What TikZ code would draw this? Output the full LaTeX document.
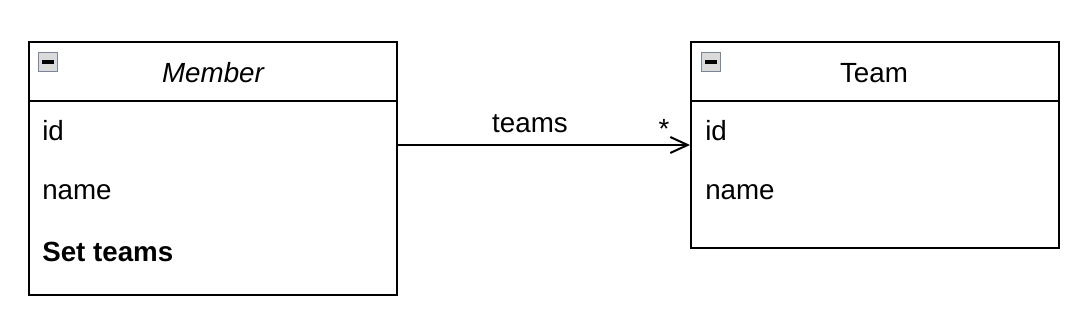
\documentclass[tikz,border=0pt]{standalone}
\usepackage{fontspec}
\setmainfont{Liberation Sans}
\usetikzlibrary{arrows.meta}
\definecolor{iconedge}{HTML}{7B8799}
\definecolor{iconfill}{HTML}{DADADA}
\tikzset{
  classbox/.style={draw, line width=1.5pt, anchor=north west, inner sep=0pt, minimum width=276pt},
  headrule/.style={line width=1pt},
  field/.style={anchor=west, inner sep=0pt, font=\fontsize{20.8}{24}\selectfont},
  title/.style={inner sep=0pt, font=\fontsize{20.8}{24}\selectfont},
  foldicon/.style={draw=iconedge, fill=iconfill, line width=1.2pt, minimum size=14pt, inner sep=0pt},
  assoc/.style={line width=1.5pt, -{Straight Barb[length=13pt, width=12pt, line width=1.5pt]}}
}
\begin{document}
\begin{tikzpicture}[x=0.75pt, y=-0.75pt]
    \useasboundingbox (0,0) rectangle (1081,323);
    % class boxes
    \node[classbox, minimum height=189.75pt] (member) at (28,41) {};
    \node[classbox, minimum height=154.5pt]  (team)   at (690,41) {};
    \draw[headrule] ([yshift=-45pt]member.north west) -- ([yshift=-45pt]member.north east);
    \draw[headrule] ([yshift=-45pt]team.north west) -- ([yshift=-45pt]team.north east);
    % collapse icons
    \foreach \ic/\px in {membericon/48, teamicon/711} {
        \node[foldicon] (\ic) at (\px,62) {};
        \draw[line width=2.4pt] ([xshift=-4.5pt]\ic.center) -- ([xshift=4.5pt]\ic.center);
    }
    % titles
    \node[title, font=\fontsize{20.8}{24}\selectfont\itshape] (membertitle) at (213,73) {Member};
    \node[title] (teamtitle) at (874,73) {Team};
    % fields
    \node[field] (memberid)    at (42,131) {id};
    \node[field] (membername)  at (42,192) {name};
    \node[field, font=\fontsize{20.8}{24}\selectfont\bfseries] (memberteams) at (42,252) {Set teams};
    \node[field] (teamid)   at (705,131) {id};
    \node[field] (teamname) at (705,192) {name};
    % association
    \draw[assoc] ([yshift=-78pt]member.north east) -- ([yshift=-78pt]team.north west);
    \node[title] (assoclabel) at (530,124) {teams};
    \node[title] (assocmult)  at (664,129) {*};
\end{tikzpicture}
\end{document}
